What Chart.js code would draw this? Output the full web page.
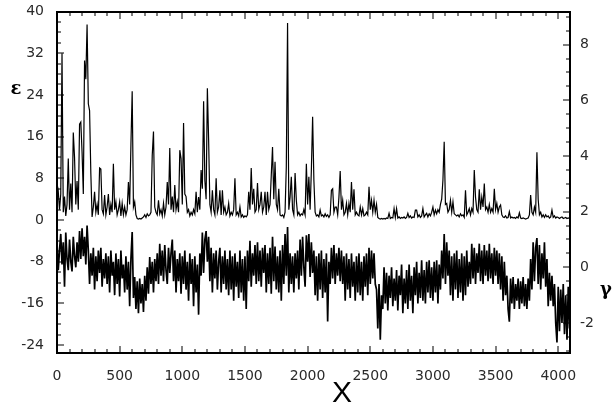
<!DOCTYPE html>
<html>
<head>
<meta charset="utf-8">
<script src="https://cdn.jsdelivr.net/npm/chart.js@4.4.1/dist/chart.umd.min.js"></script>
<style>
  body { margin: 0; background: #fff; }
  #wrap { width: 613px; height: 413px; }
</style>
</head>
<body>
<div id="wrap"><canvas id="chart" width="613" height="413"></canvas></div>
<script>
// sampling step along X (one value every 10 units, x = 0 .. 4100)
var step = 10;

// tick labels
var xTicks = [0, 500, 1000, 1500, 2000, 2500, 3000, 3500, 4000];
var epsTicks = [-24, -16, -8, 0, 8, 16, 24, 32, 40];
var gammaTicks = [-2, 0, 2, 4, 6, 8];

// upper series, epsilon (left axis)
var epsilon = [
  4, 5.5, 2, 5, 32, 1.5, 4.5, 0.8, 3, 11.8, 2, 7, 1.5, 16.8, 12, 3, 7.5, 2, 18.4, 18.8,
  13, 5, 30.6, 27, 37.5, 22.3, 21, 9, 0.6, 2.5, 5.4, 1.5, 3, 1, 10, 9.8, 2, 1.2, 4.8, 1,
  2.5, 5, 1, 3, 1.5, 10.8, 2, 3.5, 1, 2, 3.5, 0.8, 3.2, 1, 2.5, 1, 2, 7.3, 3, 14.5,
  24.7, 2.5, 3.5, 1, 0.3, 0.2, 0.3, 0.2, 0.4, 0.6, 1, 0.5, 1.2, 0.8, 1, 1.5, 12.4, 17, 2.5, 1.5,
  1, 3.8, 1.2, 2, 0.8, 3.2, 1, 2.5, 7.3, 3, 13.8, 2, 4.5, 1.5, 6.7, 2, 3.5, 1.5, 13.4, 11.8,
  3, 18.6, 5, 4.5, 1.5, 2, 0.8, 1.5, 1, 2, 1.2, 5.4, 1.5, 4.4, 2, 9.6, 6, 22.8, 7.6, 4,
  25.3, 15.4, 3, 1.5, 5.7, 2, 1, 8, 1.5, 2.5, 5.7, 1, 5.7, 1.5, 2.5, 1, 1.5, 3.2, 0.8, 1.5,
  1, 2, 8, 1, 1.5, 0.8, 2.5, 0.6, 1, 0.5, 0.8, 0.6, 1, 5.4, 2, 10, 3, 6, 1.5, 2,
  7.1, 2, 3, 5.4, 1.5, 2.5, 5.4, 1, 5.4, 2, 3, 8.6, 14, 4, 11.2, 3, 2, 6, 1, 0.8,
  1, 0.5, 1.5, 10.2, 37.8, 2, 4.4, 8.3, 2, 1, 9, 3.8, 1, 1.5, 0.8, 1.2, 1, 2, 1, 10.8,
  3, 8.3, 2, 9.6, 19.8, 7.7, 1.5, 0.8, 1, 0.6, 1.9, 0.8, 1, 0.6, 1.2, 0.7, 1, 0.5, 1, 5.7,
  6, 1.5, 2.5, 2.5, 1, 4.4, 9.4, 2, 3.8, 1, 1.5, 3.2, 1, 3.2, 1.5, 7.3, 2, 5.9, 1, 1.5,
  1, 0.8, 2.5, 1, 2.2, 0.8, 1, 1.5, 1, 6.4, 2, 3.8, 1.5, 3.8, 1.5, 3, 0.5, 0.3, 0.2, 0.3,
  0.2, 0.3, 0.2, 0.4, 0.3, 1.3, 0.3, 0.5, 0.4, 2.2, 0.5, 2.2, 0.4, 0.6, 0.3, 0.5, 0.4, 0.6, 0.3, 0.5,
  1.3, 0.5, 0.8, 0.4, 0.6, 0.5, 1.9, 1.9, 0.6, 1, 0.5, 0.8, 2.2, 0.6, 1, 1.3, 0.6, 1.2, 0.8, 1.5,
  2.5, 1, 1.9, 1.2, 2, 1.5, 3, 4, 7.7, 15, 3, 3.2, 1.5, 2, 3.8, 1.5, 3.5, 1.2, 1, 0.8,
  1, 0.6, 1.2, 0.8, 1, 0.5, 5.7, 1, 1.5, 2.2, 1, 2.2, 1.5, 9.6, 4.4, 2, 1.5, 5.9, 2, 4.4,
  2.5, 7, 2, 2.5, 1.5, 3, 1.5, 2.2, 1.5, 6, 2, 3.2, 1.5, 2.5, 2.9, 1, 0.6, 0.5, 0.8, 0.4,
  0.5, 1.6, 0.4, 0.6, 0.4, 0.5, 0.3, 0.6, 0.4, 1.4, 0.4, 0.3, 0.4, 0.3, 0.2, 0.3, 0.4, 1, 4.8, 1.5,
  1, 2.5, 1.5, 13, 4, 1, 1.5, 0.6, 1, 0.5, 1, 0.6, 0.8, 0.4, 0.6, 1.9, 0.5, 0.8, 0.4, 0.6,
  0.5, 0.3, 0.5, 0.6, 0.3, 0.4, 0.5, 0.3, 0.4, 0.3, 0.4
];

// lower series, gamma (right axis)
var gamma = [
  0.9, -0.1, 0.6, 1.2, 0.1, 0.9, -0.7, 1.25, 0.3, -0.1, 1.0, 0.2, -0.15, 1.1, 0.4, 0.0, 0.9, 0.2, 1.3, 0.3,
  1.4, 0.4, 1.1, 0.1, 1.5, 0.6, -0.6, 0.5, -0.3, 0.7, -0.8, 0.4, -0.5, 0.6, -0.2, 0.7, -0.7, 0.3, -0.4, 0.5,
  -0.6, 0.4, -0.9, 0.6, -0.3, 0.2, -1.0, 0.5, -0.6, 0.3, -1.05, 0.6, -0.4, 0.1, -0.9, 0.4, -0.8, 0.2, -1.4, 0.3,
  1.27, -1.1, -0.35, -1.5, -0.5, -1.65, -0.4, -1.3, -0.6, -1.6, -0.3, -1.2, 0.0, -0.95, 0.37, -0.6, 0.2, -0.9, 0.3, -0.5,
  0.5, -0.6, 0.85, -0.3, 0.6, -0.5, 0.8, -0.1, -0.6, 0.7, -0.2, 0.5, 1.0, -0.5, 0.6, -0.9, 0.3, -0.5, 0.5, -0.95,
  0.4, -0.6, 0.6, -0.8, 0.2, -1.2, 0.5, -0.6, 0.3, -1.4, 0.4, -0.9, 0.1, -1.7, 0.5, -0.3, 1.25, -0.2, 1.0, 1.3,
  0.2, 1.1, -0.5, 0.7, -0.9, 0.5, -0.4, 0.6, -0.8, 0.2, 0.7, -0.9, 0.4, -0.6, 0.6, -0.8, 0.3, -1.0, 0.6, -0.8,
  0.4, -1.2, 0.5, -0.7, 0.2, -1.1, 0.6, -0.9, 0.3, -1.2, 0.4, -1.5, 0.6, -0.5, 0.95, -0.7, 0.5, -0.3, 0.8, -0.6,
  0.9, -0.5, 0.6, -0.7, 0.7, -0.2, 0.8, -0.9, 0.5, -0.6, 0.7, -0.95, 1.1, -0.5, 0.75, -0.8, 0.4, -0.9, 0.6, -1.2,
  0.8, -0.6, 1.2, -0.3, 1.45, -0.9, 0.5, -0.6, 0.4, -0.9, 0.5, -0.4, 0.6, -0.8, 1.0, -0.3, 1.1, 0.0, -0.7, 1.15,
  0.2, 1.2, -0.35, 0.9, -0.2, 0.6, -1.0, 0.4, -1.2, 0.5, -0.8, 0.6, -1.1, 0.3, -0.9, 0.5, -1.95, 0.2, -0.6, 0.7,
  -0.4, 0.8, -0.6, 0.5, -0.3, 0.7, -0.5, 0.6, -0.6, 0.4, -1.2, 0.5, -0.8, 0.3, -1.1, 0.5, -0.7, 0.2, -1.2, 0.4,
  -0.9, 0.5, -1.0, 0.2, -1.2, 0.4, -0.7, 0.5, -1.0, 0.7, -0.6, 0.6, -0.4, 0.5, -0.6, -0.8, -2.2, -0.6, -2.6, -1.0,
  -1.5, 0.0, -1.3, -0.2, -1.55, -0.3, -1.1, 0.0, -1.4, -0.4, -1.2, -0.1, -1.55, -0.3, -1.0, 0.1, -1.65, -0.4, -1.3, -0.1,
  -1.5, 0.1, -1.2, -0.3, -1.65, 0.0, -1.0, 0.2, -1.3, -0.2, -1.1, 0.25, -1.2, -0.1, -1.3, 0.2, -0.9, 0.25, -1.1, 0.0,
  -1.2, 0.2, -0.9, 0.25, -1.3, 0.1, -0.8, 0.6, -0.4, 1.2, -0.6, 0.9, -0.3, 0.6, -1.0, 0.4, -1.2, 0.5, -0.8, 0.6,
  -1.1, 0.3, -0.9, 0.5, -1.2, 0.4, -1.0, 0.6, -0.7, 0.2, -0.6, 0.85, -0.4, 0.7, -0.6, 0.5, -0.2, 0.85, -0.5, 0.6,
  -0.6, 0.8, -0.3, 0.6, -0.5, 0.85, -0.4, 0.5, -0.6, 0.7, -0.3, 0.6, -0.6, 0.5, -0.8, 0.4, -1.2, 0.2, -1.0, -0.3,
  -1.5, -1.95, -0.4, -1.3, -0.35, -1.5, -0.6, -1.2, -0.4, -1.5, -0.5, -1.3, -0.35, -1.4, -0.6, -1.5, -0.4, -1.2, 0.3, -0.8,
  0.9, -0.5, 0.7, 1.05, -0.6, 0.8, -0.8, 0.5, -0.4, 0.9, -0.7, 0.3, -1.4, -0.2, -1.2, -0.3, -1.4, -0.6, -2.0, -2.7,
  -0.7, -2.3, -0.8, -2.0, -0.6, -2.4, -1.0, -2.6, -0.7, -2.2, -1.5
];

function toPoints(values) {
  return values.map(function (v, i) { return { x: i * step, y: v }; });
}

var tickFont = '14px "DejaVu Sans", sans-serif';

// frame, inward tick marks, tick labels and the free-standing axis letters
var frameTicks = {
  id: 'frameTicks',
  afterDraw: function (chart) {
    var ctx = chart.ctx, s = chart.scales;
    var left = Math.round(s.x.getPixelForValue(s.x.min));
    var right = Math.round(s.x.getPixelForValue(s.x.max));
    var top = Math.round(s.y.getPixelForValue(s.y.max));
    var bottom = Math.round(s.y.getPixelForValue(s.y.min));
    ctx.save();
    ctx.fillStyle = '#000';
    // frame as thin filled bars
    ctx.fillRect(left - 1, top - 1, right - left + 2, 2);
    ctx.fillRect(left - 1, bottom - 1, right - left + 2, 2);
    ctx.fillRect(left - 1, top - 1, 2, bottom - top + 2);
    ctx.fillRect(right - 1, top - 1, 2, bottom - top + 2);

    var i, px, py, len;
    for (i = 0; i <= 4000; i += 100) {
      px = Math.round(s.x.getPixelForValue(i));
      len = i % 500 === 0 ? 7 : 4;
      ctx.fillRect(px - 0.5, bottom - len, 1, len);
      ctx.fillRect(px - 0.5, top, 1, len);
    }
    for (i = -24; i <= 40; i += 2) {
      py = Math.round(s.y.getPixelForValue(i));
      len = i % 8 === 0 ? 7 : 4;
      ctx.fillRect(left, py - 0.5, len, 1);
    }
    for (i = -3; i <= 9; i += 0.5) {
      py = Math.round(s.y2.getPixelForValue(i));
      len = i % 2 === 0 ? 7 : 4;
      ctx.fillRect(right - len, py - 0.5, len, 1);
    }

    ctx.fillStyle = '#2a2a2a';
    ctx.font = tickFont;
    ctx.textBaseline = 'middle';
    ctx.textAlign = 'center';
    xTicks.forEach(function (t) { ctx.fillText(String(t), s.x.getPixelForValue(t), bottom + 23); });
    ctx.textAlign = 'right';
    epsTicks.forEach(function (t) { ctx.fillText(String(t), left - 13, s.y.getPixelForValue(t)); });
    ctx.textAlign = 'left';
    gammaTicks.forEach(function (t) { ctx.fillText(String(t), right + 10, s.y2.getPixelForValue(t)); });

    ctx.fillStyle = '#000';
    ctx.textAlign = 'center';
    ctx.font = 'bold 18px "DejaVu Serif", serif';
    ctx.fillText('ε', 16, 89);
    ctx.fillText('γ', 606, 290);
    ctx.font = '30px "Liberation Sans", Arial, sans-serif';
    ctx.fillText('X', 342, 394);
    ctx.restore();
  }
};

new Chart(document.getElementById('chart'), {
  type: 'line',
  data: {
    datasets: [{
      label: 'ε',
      data: toPoints(epsilon),
      yAxisID: 'y',
      borderColor: '#000',
      borderWidth: 1.2,
      pointRadius: 0,
      tension: 0
    }, {
      label: 'γ',
      data: toPoints(gamma),
      yAxisID: 'y2',
      borderColor: '#000',
      borderWidth: 1.7,
      pointRadius: 0,
      tension: 0
    }]
  },
  options: {
    responsive: false,
    animation: false,
    layout: { padding: { top: 11.5, left: 0, right: 0, bottom: 0 } },
    plugins: { legend: { display: false }, tooltip: { enabled: false } },
    scales: {
      x: {
        type: 'linear',
        min: 0,
        max: 4090,
        grid: { display: false, drawTicks: false },
        border: { display: false },
        ticks: { display: false },
        afterFit: function (sc) { sc.height = 60.5; sc.paddingLeft = 0; sc.paddingRight = 0; }
      },
      y: {
        position: 'left',
        min: -25.4,
        max: 40,
        grid: { display: false, drawTicks: false },
        border: { display: false },
        ticks: { display: false },
        afterFit: function (sc) { sc.width = 57; sc.paddingTop = 0; sc.paddingBottom = 0; }
      },
      y2: {
        position: 'right',
        min: -3.06,
        max: 9.19,
        grid: { display: false, drawTicks: false },
        border: { display: false },
        ticks: { display: false },
        afterFit: function (sc) { sc.width = 43.5; sc.paddingTop = 0; sc.paddingBottom = 0; }
      }
    }
  },
  plugins: [frameTicks]
});
</script>
</body>
</html>
